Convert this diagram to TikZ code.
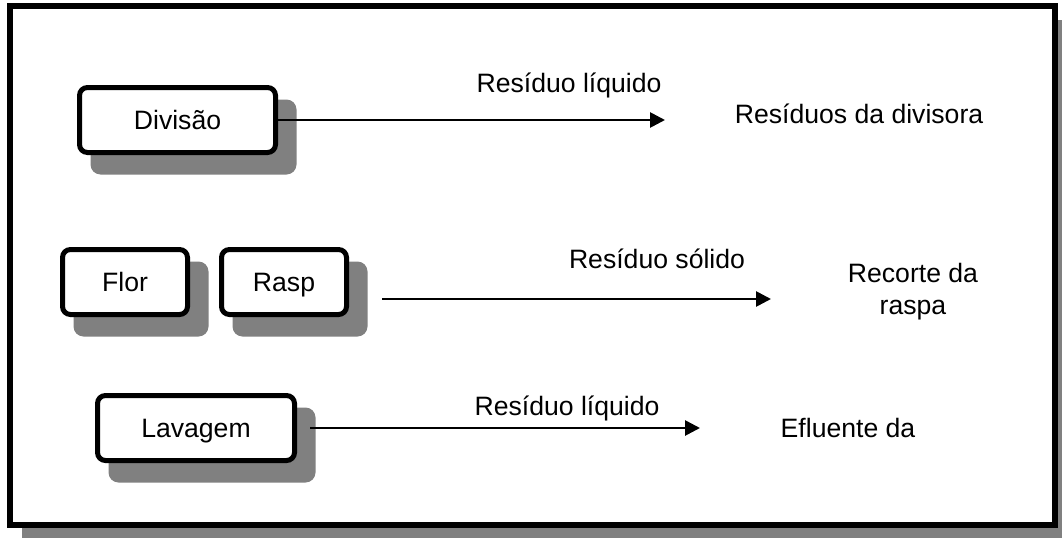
\documentclass[tikz,border=0pt]{standalone}
\usepackage{fontspec}
\setmainfont{Liberation Sans}
\usetikzlibrary{arrows.meta,backgrounds}
\definecolor{shadowgray}{RGB}{128,128,128}
\tikzset{
  procbox/.style={draw=black, fill=white, line width=5pt, rounded corners=8pt,
    minimum height=65pt, inner sep=0pt, text height=19pt, text depth=0pt,
    font=\fontsize{26.6}{32}\selectfont},
  lbl/.style={inner sep=0pt, font=\fontsize{26.6}{32}\selectfont},
  flow/.style={line width=2.7pt, -{Triangle[length=15pt,width=15pt]}},
  boxshadow/.style={fill=shadowgray, rounded corners=10pt}
}
\newcommand{\shadowof}[1]{%
  \fill[boxshadow] ([xshift=13.5pt,yshift=-19.5pt]#1.south west) rectangle ([xshift=18.5pt,yshift=-14.5pt]#1.north east);}
\begin{document}
\begin{tikzpicture}[x=1pt,y=-1pt]
\useasboundingbox (0,0) rectangle (1062,538);
% process boxes
\node[procbox, minimum width=196pt] (div) at (177.5,120) {Divisão};
\node[procbox, minimum width=125pt] (flor) at (125,282) {Flor};
\node[procbox, minimum width=125pt] (rasp) at (284,282) {Rasp};
\node[procbox, minimum width=197pt] (lav) at (196,428) {Lavagem};
\begin{scope}[on background layer]
% outer frame with shadow
\fill[shadowgray] (22,20) rectangle (1062,538);
\draw[line width=6pt, fill=white] (10,6) rectangle (1055,525);
\shadowof{div}
\shadowof{flor}
\shadowof{rasp}
\shadowof{lav}
\end{scope}
% labels
\node[lbl, anchor=base] (l1) at (569,92) {Resíduo líquido};
\node[lbl, anchor=base] (o1) at (859,123) {Resíduos da divisora};
\node[lbl, anchor=base] (l2) at (657,268) {Resíduo sólido};
\node[lbl, align=center] (o2) at (913,292) {Recorte da\\raspa};
\node[lbl, anchor=base] (l3) at (567,415) {Resíduo líquido};
\node[lbl, anchor=base] (o3) at (848,437) {Efluente da};
% connectors
\coordinate (e1) at (665,120);
\coordinate (s2) at (382,299);
\coordinate (e2) at (771,299);
\coordinate (s3) at (310,428);
\coordinate (e3) at (700,428);
\draw[flow] (div.east) -- (e1);
\draw[flow] (s2) -- (e2);
\draw[flow] (s3) -- (e3);
\end{tikzpicture}
\end{document}
